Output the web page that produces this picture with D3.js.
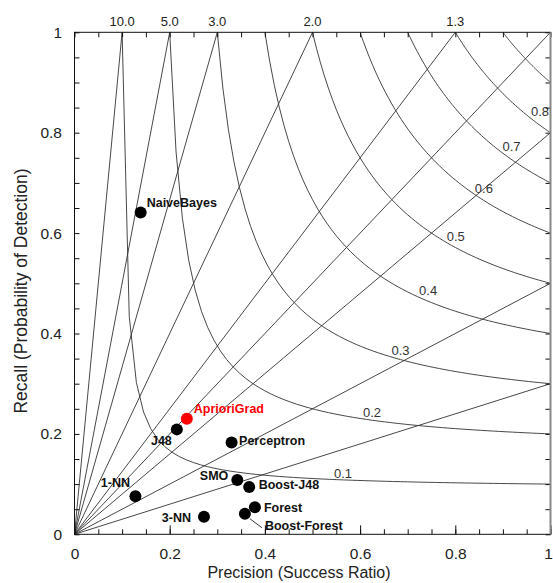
<!DOCTYPE html>
<html>
<head>
<meta charset="utf-8">
<script src="https://cdn.jsdelivr.net/npm/d3@7"></script>
<style>
  body { margin: 0; background: #fff; }
  svg { font-family: "Liberation Sans", Arial, Helvetica, sans-serif; }
</style>
</head>
<body>
<script>
var width = 553;
var height = 583;

// classifiers on the performance diagram
var models = ['NaiveBayes', 'AprioriGrad', 'J48', 'Perceptron', 'SMO',
              'Boost-J48', 'Forest', 'Boost-Forest', '3-NN', '1-NN'];
var precision = [0.139, 0.236, 0.215, 0.330, 0.342, 0.367, 0.379, 0.358, 0.272, 0.128];
var recall    = [0.641, 0.230, 0.209, 0.183, 0.108, 0.094, 0.054, 0.041, 0.035, 0.076];

// background grid: frequency bias lines and CSI curves
var biasValues = [10, 5, 10 / 3, 2, 1.25, 1, 0.8, 0.5, 0.3];
var biasLabels = ['10.0', '5.0', '3.0', '2.0', '1.3'];
var csiValues  = [0.1, 0.2, 0.3, 0.4, 0.5, 0.6, 0.7, 0.8, 0.9];
var csiLabels  = ['0.1', '0.2', '0.3', '0.4', '0.5', '0.6', '0.7', '0.8'];

var axisTicks = [0, 0.2, 0.4, 0.6, 0.8, 1];
var minorTicks = d3.range(0, 21).map(function(i) { return i / 20; });

// label layout (pixels, relative to the point)
var labelPos = {
  'NaiveBayes':   {dx: 6,   dy: -10, anchor: 'start'},
  'AprioriGrad':  {dx: 7,   dy: -10, anchor: 'start'},
  'J48':          {dx: -5,  dy: 11,  anchor: 'end'},
  'Perceptron':   {dx: 7.5, dy: -2,  anchor: 'start'},
  'SMO':          {dx: -9,  dy: -4,  anchor: 'end'},
  'Boost-J48':    {dx: 9.5, dy: -2,  anchor: 'start'},
  'Forest':       {dx: 9,   dy: 0,   anchor: 'start'},
  'Boost-Forest': {dx: 20,  dy: 12,  anchor: 'start'},
  '3-NN':         {dx: -13, dy: 0.5, anchor: 'end'},
  '1-NN':         {dx: -20, dy: -14, anchor: 'middle'}
};
var csiLabelX = [0.545, 0.606, 0.666, 0.724, 0.782, 0.841, 0.899, 0.959];

var x = d3.scaleLinear().domain([0, 1]).range([74.5, 550.5]);
var y = d3.scaleLinear().domain([0, 1]).range([534.3, 32.3]);

var svg = d3.select('body').append('svg')
    .attr('width', width)
    .attr('height', height);

svg.append('clipPath').attr('id', 'plot')
  .append('rect')
    .attr('x', x(0)).attr('y', y(1))
    .attr('width', x(1) - x(0)).attr('height', y(0) - y(1));

var grid = svg.append('g').attr('clip-path', 'url(#plot)');
var line = d3.line()
    .x(function(d) { return x(d[0]); })
    .y(function(d) { return y(d[1]); });

// bias lines from the origin
grid.selectAll('path.bias')
    .data(biasValues)
  .enter().append('path')
    .attr('class', 'bias')
    .attr('d', function(b) {
      var end = b >= 1 ? [1 / b, 1] : [1, b];
      return line([[0, 0], end]);
    })
    .attr('fill', 'none')
    .attr('stroke', '#333')
    .attr('stroke-width', 0.9);

// CSI curves: 1/csi = 1/sr + 1/pod - 1
function csiPod(c, sr) { return 1 / (1 / c - 1 / sr + 1); }

grid.selectAll('path.csi')
    .data(csiValues)
  .enter().append('path')
    .attr('class', 'csi')
    .attr('d', function(c) {
      var pts = d3.range(0, 61).map(function(i) {
        var sr = c + (1 - c) * i / 60;
        return [sr, csiPod(c, sr)];
      });
      return line(pts);
    })
    .attr('fill', 'none')
    .attr('stroke', '#333')
    .attr('stroke-width', 0.9);

svg.selectAll('text.csi-label')
    .data(csiLabels)
  .enter().append('text')
    .attr('class', 'csi-label')
    .attr('x', function(d, i) { return x(csiLabelX[i]); })
    .attr('y', function(d, i) { return y(csiPod(+d, csiLabelX[i])) - 2; })
    .attr('font-size', 13)
    .attr('fill', '#333')
    .text(function(d) { return d; });

svg.selectAll('text.bias-label')
    .data(biasLabels)
  .enter().append('text')
    .attr('class', 'bias-label')
    .attr('x', function(d, i) { return x(1 / biasValues[i]); })
    .attr('y', 26)
    .attr('text-anchor', 'middle')
    .attr('font-size', 13)
    .attr('fill', '#222')
    .text(function(d) { return d; });

// axes with inward ticks
var fmt = function(d) { return d === 0 ? '0' : d === 1 ? '1' : d.toFixed(1); };

function styleAxis(g) {
  g.select('.domain').remove();
  g.selectAll('line').attr('stroke', '#111');
  g.selectAll('text').attr('font-size', 15.5).attr('fill', '#222')
    .attr('font-family', '"Liberation Sans", Arial, sans-serif');
}

svg.append('g').attr('transform', 'translate(0,' + y(0) + ')')
    .call(d3.axisBottom(x).tickValues(minorTicks).tickSize(-5).tickFormat(''))
    .call(styleAxis);
svg.append('g').attr('transform', 'translate(0,' + y(0) + ')')
    .call(d3.axisBottom(x).tickValues(axisTicks).tickSize(-9).tickPadding(14).tickFormat(fmt))
    .call(styleAxis)
    .call(function(g) {
      // keep the last label inside the picture
      g.selectAll('text').filter(function(d) { return d === 1; }).attr('dx', -2.5);
    });
svg.append('g').attr('transform', 'translate(0,' + y(1) + ')')
    .call(d3.axisTop(x).tickValues(minorTicks).tickSize(-5).tickFormat(''))
    .call(styleAxis);
svg.append('g').attr('transform', 'translate(' + x(0) + ',0)')
    .call(d3.axisLeft(y).tickValues(minorTicks).tickSize(-5).tickPadding(12.5).tickFormat(function(d) {
      return axisTicks.indexOf(d) >= 0 ? fmt(d) : '';
    }))
    .call(styleAxis);
svg.append('g').attr('transform', 'translate(' + x(1) + ',0)')
    .call(d3.axisRight(y).tickValues(minorTicks).tickSize(-5).tickFormat(''))
    .call(styleAxis);

// frame
svg.append('rect')
    .attr('x', x(0)).attr('y', y(1))
    .attr('width', x(1) - x(0)).attr('height', y(0) - y(1))
    .attr('fill', 'none').attr('stroke', '#111').attr('stroke-width', 1);
svg.append('line')
    .attr('x1', x(1)).attr('x2', x(1)).attr('y1', y(1)).attr('y2', y(0))
    .attr('stroke', '#888').attr('stroke-width', 2);

// axis titles
svg.append('text')
    .attr('x', 299).attr('y', 578)
    .attr('text-anchor', 'middle')
    .attr('font-size', 16).attr('fill', '#222')
    .text('Precision (Success Ratio)');
svg.append('text')
    .attr('transform', 'translate(27,291) rotate(-90)')
    .attr('text-anchor', 'middle')
    .attr('font-size', 17.5).attr('fill', '#222')
    .text('Recall (Probability of Detection)');

// points and labels
var pts = models.map(function(m, i) {
  return {name: m, p: precision[i], r: recall[i]};
});

var bf = pts[models.indexOf('Boost-Forest')];
svg.append('line')
    .attr('x1', x(bf.p) + 5).attr('y1', y(bf.r) + 5)
    .attr('x2', x(bf.p) + 17).attr('y2', y(bf.r) + 14)
    .attr('stroke', '#222').attr('stroke-width', 0.9);

svg.selectAll('circle.pt')
    .data(pts)
  .enter().append('circle')
    .attr('class', 'pt')
    .attr('cx', function(d) { return x(d.p); })
    .attr('cy', function(d) { return y(d.r); })
    .attr('r', 6)
    .attr('fill', function(d) { return d.name === 'AprioriGrad' ? '#f00' : '#000'; });

svg.selectAll('text.pt-label')
    .data(pts)
  .enter().append('text')
    .attr('class', 'pt-label')
    .attr('x', function(d) { return x(d.p) + labelPos[d.name].dx; })
    .attr('y', function(d) { return y(d.r) + labelPos[d.name].dy; })
    .attr('dy', '0.35em')
    .attr('text-anchor', function(d) { return labelPos[d.name].anchor; })
    .attr('font-size', 12.5)
    .attr('font-weight', 'bold')
    .attr('fill', function(d) { return d.name === 'AprioriGrad' ? '#f00' : '#111'; })
    .text(function(d) { return d.name; });
</script>
</body>
</html>
